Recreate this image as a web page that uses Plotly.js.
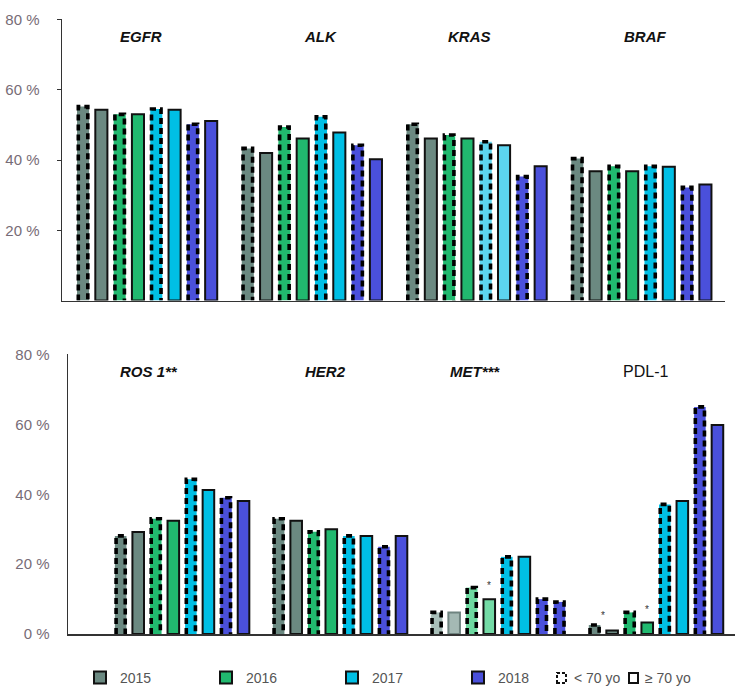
<!DOCTYPE html>
<html>
<head>
<meta charset="utf-8">
<script src="https://cdn.plot.ly/plotly-3.0.1.min.js"></script>
<style>html,body{margin:0;padding:0;background:#fff;}#chart{width:743px;height:694px;}</style>
</head>
<body>
<div id="chart"></div>
<script>
// ---------------- DATA ----------------
const years = ['2015', '2016', '2017', '2018'];
const ageGroups = ['< 70 yo', '\u2265 70 yo'];
const topGenes = ['EGFR', 'ALK', 'KRAS', 'BRAF'];
const bottomGenes = ['ROS 1**', 'HER2', 'MET***', 'PDL-1'];
const tickValsTop = [20, 40, 60, 80];
const tickValsBottom = [0, 20, 40, 60, 80];
const tickLabelsTop = ['20 %', '40 %', '60 %', '80 %'];
const tickLabelsBottom = ['0 %', '20 %', '40 %', '60 %', '80 %'];

// % of patients tested; order: 2015 <70, 2015 >=70, 2016 <70, 2016 >=70, 2017 <70, 2017 >=70, 2018 <70, 2018 >=70
const EGFR = [55.2, 54.3, 53.0, 53.0, 54.5, 54.3, 50.2, 51.1];
const ALK  = [43.3, 42.0, 49.4, 46.1, 52.3, 47.8, 44.2, 40.2];
const KRAS = [50.2, 46.1, 47.1, 46.1, 45.2, 44.2, 35.3, 38.2];
const BRAF = [40.4, 36.8, 38.2, 36.8, 38.2, 38.1, 32.2, 33.0];
const ROS1 = [28.1, 29.2, 33.0, 32.4, 44.3, 41.2, 39.0, 38.1];
const HER2 = [33.0, 32.4, 29.3, 30.0, 28.1, 28.1, 25.0, 28.1];
const MET  = [6.2, 6.2, 13.3, 10.0, 22.1, 22.1, 10.0, 9.2];
const PDL1 = [2.6, 1.0, 6.2, 3.3, 37.1, 38.1, 65.0, 59.8];

const topValues = [EGFR, ALK, KRAS, BRAF];
const bottomValues = [ROS1, HER2, MET, PDL1];

// significance marks: [gene, year, age index (0.5 = both bars)]
const asterisks = [['MET***', '2016', 1], ['PDL-1', '2015', 0.5], ['PDL-1', '2016', 1]];

// ---------------- STYLE ----------------
const yearColors = {'2015': '#6b8981', '2016': '#21b96f', '2017': '#00bfe5', '2018': '#4a50db'};
const overrides = {
  'KRAS|2017|0': {fill: '#5cd4ef'}, 'KRAS|2017|1': {fill: '#5cd4ef'},
  'MET***|2015|0': {fill: '#a8bfb9'}, 'MET***|2015|1': {fill: '#a4b9b4', line: '#6f8480'},
  'MET***|2016|0': {fill: '#6dd8a0'}, 'MET***|2016|1': {fill: '#74dba6'},
  'MET***|2018|1': {dashed: true}
};
const FONT = '"Liberation Sans", Arial, sans-serif';
const W = 743, H = 694;
const slotsPerGroup = 9;
const barWidth = 0.66;
const dashHalf = 0.26;

function slot(g, yi, a) { return g * slotsPerGroup + yi * 2 + a; }

const traces = [];
function buildPanel(genes, values, xa, ya, showLegend) {
  const dx = [], dy = [];
  years.forEach((yr, yi) => {
    const xs = [], vs = [], fills = [], lcols = [], lws = [], texts = [];
    genes.forEach((gene, g) => {
      [1, 0].forEach(a => {
        const v = values[g][yi * 2 + a];
        const o = overrides[gene + '|' + yr + '|' + a] || {};
        const dashed = a === 0 || o.dashed;
        xs.push(slot(g, yi, a));
        vs.push(v);
        fills.push(o.fill || yearColors[yr]);
        lcols.push(o.line || '#111111');
        lws.push(dashed ? 0 : 2);
        texts.push(gene + ' ' + yr + ' ' + ageGroups[a]);
        if (dashed) {
          const cx = slot(g, yi, a);
          dx.push(cx - dashHalf, cx - dashHalf, cx + dashHalf, cx + dashHalf, null);
          dy.push(0, v, v, 0, null);
        }
      });
    });
    traces.push({
      type: 'bar', x: xs, y: vs, width: barWidth, xaxis: xa, yaxis: ya,
      name: yr, legendgroup: yr, showlegend: showLegend, text: texts,
      hovertemplate: '%{text}: %{y}%<extra></extra>', textposition: 'none',
      marker: {color: fills, line: {color: lcols, width: lws}}
    });
  });
  traces.push({
    type: 'scatter', mode: 'lines', x: dx, y: dy, xaxis: xa, yaxis: ya,
    showlegend: false, hoverinfo: 'skip', connectgaps: false,
    line: {color: '#000000', width: 3.6, dash: '6px,4px'}
  });
}
buildPanel(topGenes, topValues, 'x', 'y', true);
buildPanel(bottomGenes, bottomValues, 'x2', 'y2', false);

// ---------------- LAYOUT ----------------
const px = v => v / W;
const py = v => (H - v) / H;

const annotations = [];
const geneLabelX = {top: [141, 320, 470, 645], bottom: [149, 325, 475, 645]};
topGenes.forEach((g, i) => annotations.push({
  xref: 'paper', yref: 'paper', x: px(geneLabelX.top[i]), y: py(37), text: '<b><i>' + g + '</i></b>',
  showarrow: false, xanchor: 'center', yanchor: 'middle', font: {family: FONT, size: 15, color: '#111'}
}));
bottomGenes.forEach((g, i) => annotations.push({
  xref: 'paper', yref: 'paper', x: px(geneLabelX.bottom[i]), y: py(372),
  text: g === 'PDL-1' ? g : '<b><i>' + g + '</i></b>',
  showarrow: false, xanchor: 'center', yanchor: 'middle',
  font: {family: FONT, size: g === 'PDL-1' ? 16 : 15, color: '#111'}
}));
asterisks.forEach(([gene, yr, a]) => {
  const g = bottomGenes.indexOf(gene), yi = years.indexOf(yr);
  const v = Math.max(bottomValues[g][yi * 2], bottomValues[g][yi * 2 + 1]);
  const top = a === 0.5 ? v : bottomValues[g][yi * 2 + a];
  annotations.push({
    xref: 'x2', yref: 'y2', x: slot(g, yi, a), y: top, text: '*', showarrow: false,
    xanchor: 'center', yanchor: 'bottom', yshift: a === 0.5 ? 2 : 6,
    font: {family: FONT, size: 10, color: '#333'}
  });
});
// age-group key
annotations.push({xref: 'paper', yref: 'paper', x: px(572), y: py(679), text: ageGroups[0],
  showarrow: false, xanchor: 'left', yanchor: 'middle', font: {family: FONT, size: 14, color: '#555'}});
annotations.push({xref: 'paper', yref: 'paper', x: px(643), y: py(679), text: ageGroups[1],
  showarrow: false, xanchor: 'left', yanchor: 'middle', font: {family: FONT, size: 14, color: '#555'}});
const shapes = [
  {type: 'rect', xref: 'paper', yref: 'paper', x0: px(557), x1: px(566), y0: py(684), y1: py(674),
   line: {color: '#111', width: 2, dash: '3px,2px'}, fillcolor: '#ffffff'},
  {type: 'rect', xref: 'paper', yref: 'paper', x0: px(629), x1: px(638), y0: py(684), y1: py(674),
   line: {color: '#111', width: 2}, fillcolor: '#ffffff'}
];

const yaxisCommon = {
  range: [0, 80], showgrid: false, zeroline: false, showline: true, linecolor: '#333', linewidth: 1.5,
  tickfont: {family: FONT, size: 15, color: '#776c76'}, fixedrange: true
};
const xaxisCommon = {
  showgrid: false, zeroline: false, showline: true, linecolor: '#333', linewidth: 1.5,
  showticklabels: false, ticks: '', fixedrange: true
};

const layout = {
  width: W, height: H, autosize: false,
  margin: {l: 0, r: 0, t: 0, b: 0},
  paper_bgcolor: '#ffffff', plot_bgcolor: 'rgba(0,0,0,0)',
  barmode: 'overlay', showlegend: true,
  font: {family: FONT},
  xaxis: Object.assign({}, xaxisCommon, {domain: [px(62), px(725)], range: [-1.15, 35.07], anchor: 'y'}),
  yaxis: Object.assign({}, yaxisCommon, {domain: [py(301), py(19.5)], anchor: 'x',
    tickvals: tickValsTop, ticktext: tickLabelsTop, ticks: 'outside', ticklen: 4, tickcolor: '#333',
    ticklabelstandoff: 14}),
  xaxis2: Object.assign({}, xaxisCommon, {domain: [px(68), px(735)], range: [-3, 35], anchor: 'y2'}),
  yaxis2: Object.assign({}, yaxisCommon, {domain: [py(635), py(355)], anchor: 'x2',
    tickvals: tickValsBottom, ticktext: tickLabelsBottom, ticks: '', ticklabelstandoff: 14}),
  legend: {
    orientation: 'h', x: px(80), xanchor: 'left', y: py(679), yanchor: 'middle',
    entrywidth: 81, entrywidthmode: 'pixels', traceorder: 'normal',
    font: {family: FONT, size: 14, color: '#555'}, bgcolor: 'rgba(0,0,0,0)', borderwidth: 0
  },
  annotations: annotations,
  shapes: shapes
};

Plotly.newPlot('chart', traces, layout, {displayModeBar: false, staticPlot: true});
</script>
</body>
</html>
